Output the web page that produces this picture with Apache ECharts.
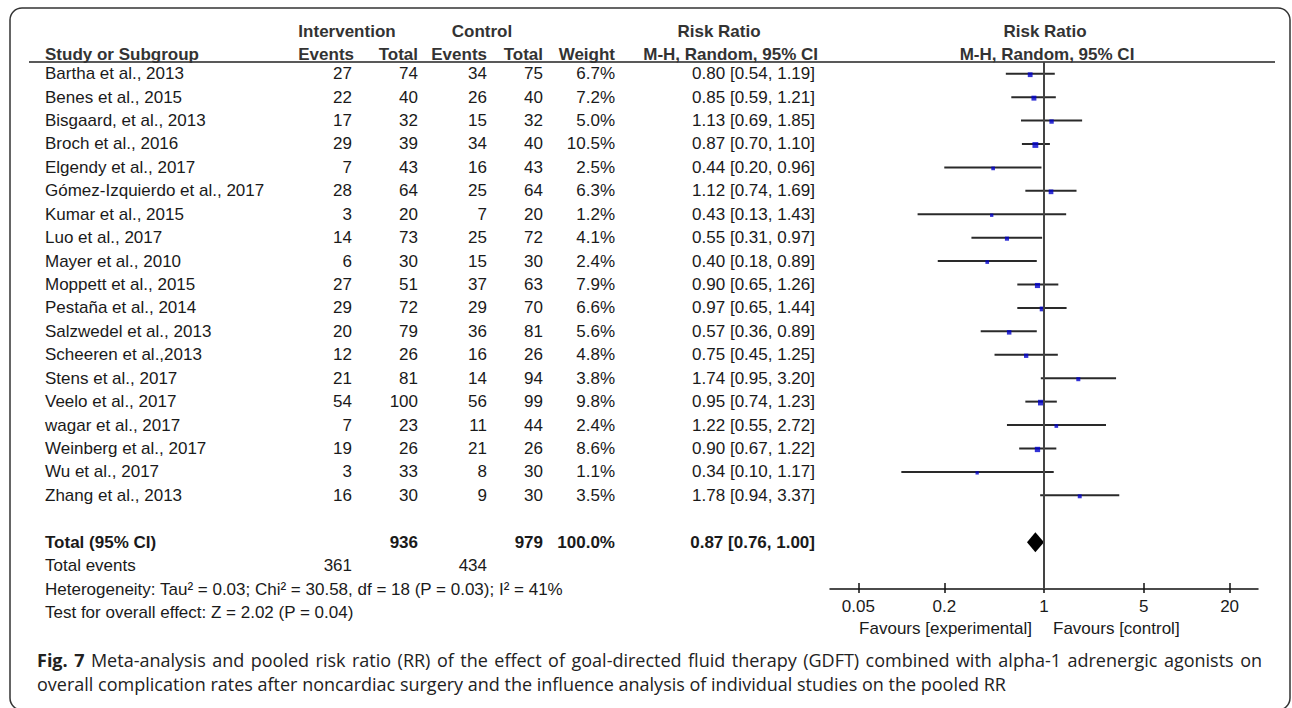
<!DOCTYPE html>
<html>
<head>
<meta charset="utf-8">
<title>Forest plot - risk ratio</title>
<script src="https://cdn.jsdelivr.net/npm/echarts@6.0.0/dist/echarts.min.js"></script>
<style>
html, body { margin: 0; padding: 0; background: #fff; }
#main { width: 1292px; height: 708px; }
</style>
</head>
<body>
<div id="main"></div>
<script>
var studies = ['Bartha et al., 2013', 'Benes et al., 2015', 'Bisgaard, et al., 2013', 'Broch et al., 2016',
    'Elgendy et al., 2017', 'Gómez-Izquierdo et al., 2017', 'Kumar et al., 2015', 'Luo et al., 2017',
    'Mayer et al., 2010', 'Moppett et al., 2015', 'Pestaña et al., 2014', 'Salzwedel et al., 2013',
    'Scheeren et al.,2013', 'Stens et al., 2017', 'Veelo et al., 2017', 'wagar et al., 2017',
    'Weinberg et al., 2017', 'Wu et al., 2017', 'Zhang et al., 2013'];
var intEvents = [27, 22, 17, 29, 7, 28, 3, 14, 6, 27, 29, 20, 12, 21, 54, 7, 19, 3, 16];
var intTotal = [74, 40, 32, 39, 43, 64, 20, 73, 30, 51, 72, 79, 26, 81, 100, 23, 26, 33, 30];
var ctlEvents = [34, 26, 15, 34, 16, 25, 7, 25, 15, 37, 29, 36, 16, 14, 56, 11, 21, 8, 9];
var ctlTotal = [75, 40, 32, 40, 43, 64, 20, 72, 30, 63, 70, 81, 26, 94, 99, 44, 26, 30, 30];
var weight = [6.7, 7.2, 5.0, 10.5, 2.5, 6.3, 1.2, 4.1, 2.4, 7.9, 6.6, 5.6, 4.8, 3.8, 9.8, 2.4, 8.6, 1.1, 3.5];
var rr = [0.80, 0.85, 1.13, 0.87, 0.44, 1.12, 0.43, 0.55, 0.40, 0.90, 0.97, 0.57, 0.75, 1.74, 0.95, 1.22, 0.90, 0.34, 1.78];
var ciLow = [0.54, 0.59, 0.69, 0.70, 0.20, 0.74, 0.13, 0.31, 0.18, 0.65, 0.65, 0.36, 0.45, 0.95, 0.74, 0.55, 0.67, 0.10, 0.94];
var ciHigh = [1.19, 1.21, 1.85, 1.10, 0.96, 1.69, 1.43, 0.97, 0.89, 1.26, 1.44, 0.89, 1.25, 3.20, 1.23, 2.72, 1.22, 1.17, 3.37];

var totalInt = 936, totalCtl = 979, totalWeight = 100.0;
var eventsInt = 361, eventsCtl = 434;
var pooled = [0.87, 0.76, 1.00];
var hetText = 'Heterogeneity: Tau² = 0.03; Chi² = 30.58, df = 18 (P = 0.03); I² = 41%';
var testText = 'Test for overall effect: Z = 2.02 (P = 0.04)';

var tickValues = [0.05, 0.2, 1, 5, 20];
var tickLabels = ['0.05', '0.2', '1', '5', '20'];

var captionBold = 'Fig. 7';
var captionLine1 = 'Meta-analysis and pooled risk ratio (RR) of the effect of goal-directed fluid therapy (GDFT) combined with alpha-1 adrenergic agonists on';
var captionLine2 = 'overall complication rates after noncardiac surgery and the influence analysis of individual studies on the pooled RR';

var FONT = '"Liberation Sans", Arial, sans-serif';
var CAP_FONT = '"Open Sans", sans-serif';
var CAP_SIZE = 18;
var TXT = '#1a1a1a';

function lg(v) { return Math.log(v) / Math.LN10; }
function ciText(a, b, c) { return a.toFixed(2) + ' [' + b.toFixed(2) + ', ' + c.toFixed(2) + ']'; }

// table cells: column anchors in px (right edges for numbers)
var COL = { name: 45, ev1: 352, tot1: 418, ev2: 487, tot2: 543, w: 615, ci: 815 };
var cells = [];
function cell(x, row, text, align, bold, color) {
    cells.push({ x: x, row: row, text: text, align: align || 'right', bold: !!bold, color: color || TXT });
}
// headers
cell(347, -1.8, 'Intervention', 'center', true, '#333');
cell(482, -1.8, 'Control', 'center', true, '#333');
cell(719, -1.8, 'Risk Ratio', 'center', true, '#333');
cell(1045, -1.8, 'Risk Ratio', 'center', true, '#333');
cell(COL.name, -0.8, 'Study or Subgroup', 'left', true, '#333');
cell(COL.ev1 + 2, -0.8, 'Events', 'right', true, '#333');
cell(COL.tot1, -0.8, 'Total', 'right', true, '#333');
cell(COL.ev2, -0.8, 'Events', 'right', true, '#333');
cell(COL.tot2, -0.8, 'Total', 'right', true, '#333');
cell(COL.w, -0.8, 'Weight', 'right', true, '#333');
cell(818, -0.8, 'M-H, Random, 95% CI', 'right', true, '#333');
cell(1047, -0.8, 'M-H, Random, 95% CI', 'center', true, '#333');
// study rows
studies.forEach(function (s, i) {
    cell(COL.name, i, s, 'left');
    cell(COL.ev1, i, String(intEvents[i]));
    cell(COL.tot1, i, String(intTotal[i]));
    cell(COL.ev2, i, String(ctlEvents[i]));
    cell(COL.tot2, i, String(ctlTotal[i]));
    cell(COL.w, i, weight[i].toFixed(1) + '%');
    cell(COL.ci, i, ciText(rr[i], ciLow[i], ciHigh[i]));
});
var totalRow = studies.length + 1;
cell(COL.name, totalRow, 'Total (95% CI)', 'left', true);
cell(COL.tot1, totalRow, String(totalInt), 'right', true);
cell(COL.tot2, totalRow, String(totalCtl), 'right', true);
cell(COL.w, totalRow, totalWeight.toFixed(1) + '%', 'right', true);
cell(COL.ci, totalRow, ciText(pooled[0], pooled[1], pooled[2]), 'right', true);
cell(COL.name, totalRow + 1, 'Total events', 'left');
cell(COL.ev1, totalRow + 1, String(eventsInt));
cell(COL.ev2, totalRow + 1, String(eventsCtl));
cell(COL.name, totalRow + 2, hetText, 'left');
cell(COL.name, totalRow + 3, testText, 'left');

// justified first caption line: measure words, spread the gaps
var ctx = document.createElement('canvas').getContext('2d');
function capWords(boldPart, rest, left, right, y) {
    var words = [];
    boldPart.split(' ').forEach(function (w) { words.push({ t: w, b: true }); });
    rest.split(' ').forEach(function (w) { words.push({ t: w, b: false }); });
    var sum = 0;
    words.forEach(function (w) {
        ctx.font = (w.b ? 'bold ' : '') + CAP_SIZE + 'px ' + CAP_FONT;
        w.w = ctx.measureText(w.t).width;
        sum += w.w;
    });
    var gap = (right - left - sum) / (words.length - 1);
    var x = left, out = [];
    words.forEach(function (w) {
        out.push({
            type: 'text', x: x, y: y, silent: true,
            style: { text: w.t, font: (w.b ? 'bold ' : '') + CAP_SIZE + 'px ' + CAP_FONT, fill: '#222', verticalAlign: 'middle' }
        });
        x += w.w + gap;
    });
    return out;
}

var chart = echarts.init(document.getElementById('main'), null, { renderer: 'svg' });

var yCommon = { type: 'value', inverse: true, min: -0.5, max: 22, show: false };
var tickPos = tickValues.map(lg);

var graphics = [
    {
        type: 'rect', shape: { x: 10, y: 8, width: 1280, height: 702, r: 12 },
        style: { fill: 'none', stroke: '#333', lineWidth: 1.5 }, silent: true
    },
    {
        type: 'line', shape: { x1: 29, y1: 62, x2: 1275, y2: 62 },
        style: { stroke: '#222', lineWidth: 1.5 }, silent: true
    },
    {
        type: 'text', x: 1032, y: 628,
        style: { text: 'Favours [experimental]', font: '17px ' + FONT, fill: TXT, align: 'right', verticalAlign: 'middle' }
    },
    {
        type: 'text', x: 1053, y: 628,
        style: { text: 'Favours [control]', font: '17px ' + FONT, fill: TXT, align: 'left', verticalAlign: 'middle' }
    },
    {
        type: 'text', x: 37, y: 684,
        style: { text: captionLine2, font: CAP_SIZE + 'px ' + CAP_FONT, fill: '#222', verticalAlign: 'middle' }
    }
].concat(capWords(captionBold, captionLine1, 37, 1262, 660));

chart.setOption({
    animation: false,
    textStyle: { fontFamily: FONT },
    grid: [
        { left: 0, top: 62, width: 1292, height: 527 },
        { left: 830, top: 62, width: 428, height: 527 }
    ],
    xAxis: [
        { gridIndex: 0, type: 'value', min: 0, max: 1292, show: false },
        {
            gridIndex: 1, type: 'value', min: -1.5, max: 1.5, position: 'bottom',
            axisLine: { show: true, onZero: false, lineStyle: { color: '#111', width: 1.5 } },
            axisTick: { show: true, length: 4, customValues: tickPos, lineStyle: { color: '#111', width: 1.5 } },
            axisLabel: {
                show: true, margin: 9, fontSize: 17, color: TXT, fontFamily: FONT,
                customValues: tickPos,
                formatter: function (v) {
                    for (var k = 0; k < tickPos.length; k++) {
                        if (Math.abs(tickPos[k] - v) < 1e-6) return tickLabels[k];
                    }
                    return '';
                }
            },
            splitLine: { show: false }
        },
        {
            gridIndex: 1, type: 'value', min: -1.5, max: 1.5, position: 'bottom',
            axisLine: { show: false, onZero: false },
            axisTick: { show: true, inside: true, length: 6, customValues: tickPos, lineStyle: { color: '#111', width: 1.5 } },
            axisLabel: { show: false },
            splitLine: { show: false }
        }
    ],
    yAxis: [
        echarts.util.extend({ gridIndex: 0 }, yCommon),
        echarts.util.extend({ gridIndex: 1 }, yCommon)
    ],
    graphic: graphics,
    series: [
        {
            name: 'table', type: 'custom', xAxisIndex: 0, yAxisIndex: 0,
            data: cells.map(function (c) { return [c.x, c.row]; }),
            renderItem: function (params, api) {
                var c = cells[params.dataIndex];
                var p = api.coord([c.x, c.row]);
                return {
                    type: 'text', x: p[0], y: p[1],
                    style: {
                        text: c.text, fill: c.color, align: c.align, verticalAlign: 'middle',
                        font: (c.bold ? 'bold ' : '') + '17px ' + FONT
                    }
                };
            }
        },
        {
            name: 'ci', type: 'custom', xAxisIndex: 1, yAxisIndex: 1,
            encode: { x: [0, 1], y: 2 },
            data: studies.map(function (s, i) { return [lg(ciLow[i]), lg(ciHigh[i]), i]; }),
            renderItem: function (params, api) {
                var a = api.coord([api.value(0), api.value(2)]);
                var b = api.coord([api.value(1), api.value(2)]);
                return {
                    type: 'line', shape: { x1: a[0], y1: a[1], x2: b[0], y2: b[1] },
                    style: { stroke: '#2a2a2a', lineWidth: 2 }
                };
            }
        },
        {
            name: 'estimate', type: 'scatter', xAxisIndex: 1, yAxisIndex: 1,
            symbol: 'rect',
            symbolOffset: [0, 1],
            symbolSize: function (val, params) { return 3 + weight[params.dataIndex] * 0.27; },
            itemStyle: { color: '#0000cc' },
            data: studies.map(function (s, i) { return [lg(rr[i]), i]; }),
            markLine: {
                silent: true, symbol: 'none', label: { show: false },
                lineStyle: { color: '#444', width: 2, type: 'solid' },
                data: [{ xAxis: 0 }]
            },
            z: 3
        },
        {
            name: 'pooled', type: 'custom', xAxisIndex: 1, yAxisIndex: 1,
            encode: { x: [0, 1, 2], y: 3 },
            data: [[lg(pooled[1]), lg(pooled[0]), lg(pooled[2]), totalRow]],
            renderItem: function (params, api) {
                var l = api.coord([api.value(0), api.value(3)]);
                var m = api.coord([api.value(1), api.value(3)]);
                var r = api.coord([api.value(2), api.value(3)]);
                var h = 10;
                return {
                    type: 'polygon',
                    shape: { points: [[l[0], l[1]], [m[0], m[1] - h], [r[0], r[1]], [m[0], m[1] + h]] },
                    style: { fill: '#000' }
                };
            },
            z: 4
        }
    ]
});
</script>
</body>
</html>
